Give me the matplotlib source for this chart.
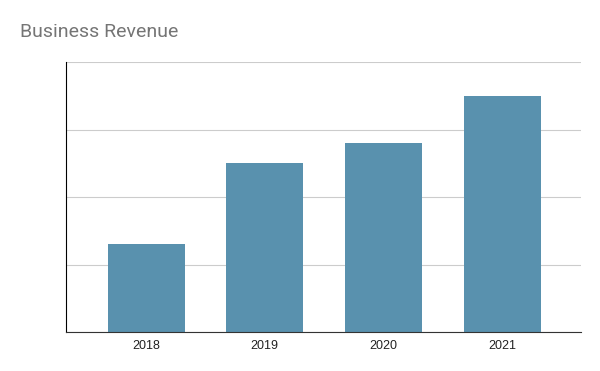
import matplotlib
matplotlib.use('Agg')
from matplotlib import pyplot as plt

years = ['2018', '2019', '2020', '2021']
revenue = [1.3, 2.5, 2.8, 3.5]

fig = plt.figure(figsize=(6, 3.71), dpi=100)
ax = fig.add_axes([66 / 600, 39 / 371, 515 / 600, 270 / 371])

ax.bar(range(len(years)), revenue, width=0.65, color='#5991ae', zorder=3)
ax.set_xlim(-0.675, 3.665)
ax.set_ylim(0, 4)
ax.set_yticks([0, 1, 2, 3, 4])
ax.set_yticklabels([])
ax.tick_params(axis='y', length=0)
ax.set_xticks(range(len(years)))
ax.set_xticklabels(years, fontsize=9, family='Liberation Sans', color='#222222')
ax.tick_params(axis='x', length=0, pad=5.5)
ax.grid(axis='y', color='#cccccc', linewidth=0.8, zorder=0)

for side in ['top', 'right']:
    ax.spines[side].set_visible(False)
ax.spines['left'].set_color('#000000')
ax.spines['bottom'].set_color('#333333')
ax.spines['left'].set_zorder(4)
ax.spines['bottom'].set_zorder(4)

fig.text(20 / 600, 1 - 32 / 371, 'Business Revenue', fontsize=14, family='Roboto',
         color='#757575', va='center', ha='left')

plt.savefig('out.png', dpi=100)
plt.close(fig)
